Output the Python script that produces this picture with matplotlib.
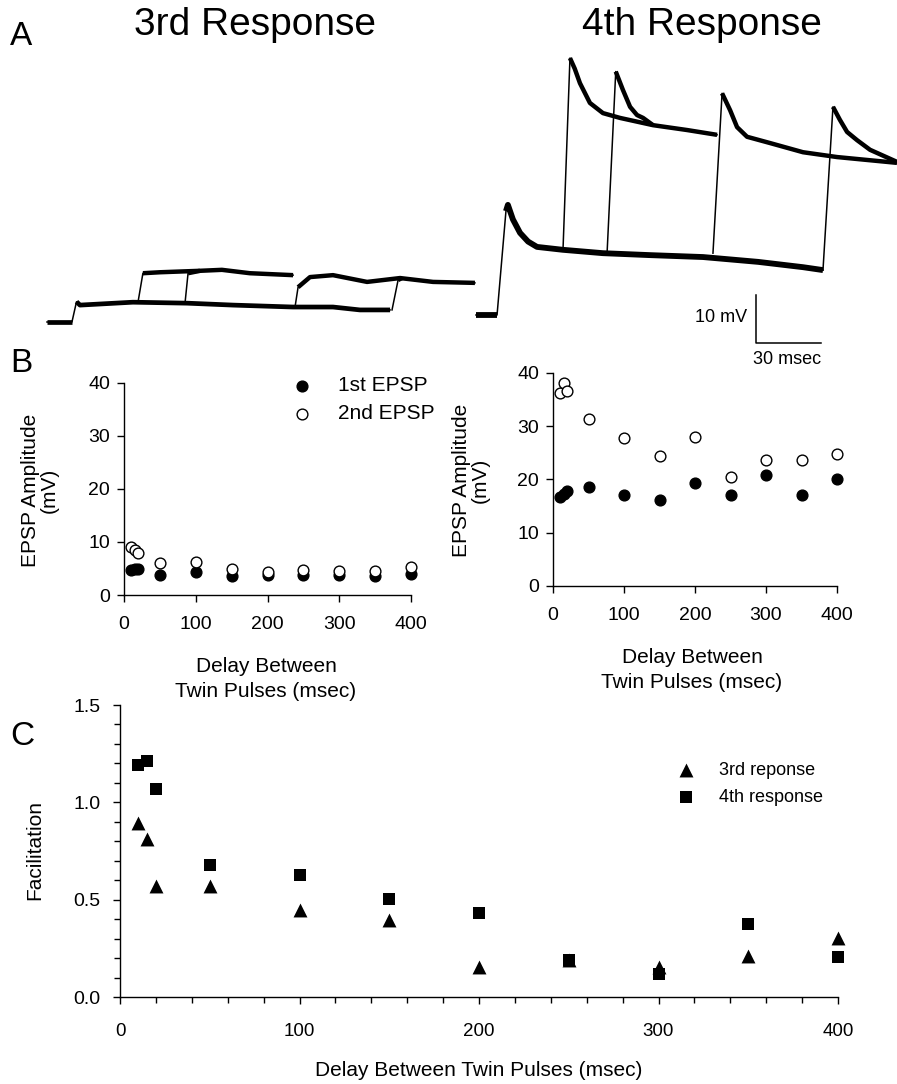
import matplotlib
matplotlib.use('Agg')
import matplotlib.pyplot as plt

plt.rcParams['font.family'] = ['Liberation Sans', 'DejaVu Sans']

# ---------------- Panel A traces (time in ms, voltage in mV above baseline) ----
# 3rd response
r3_base_t = [0, 11.5, 13.6, 15.2, 39.6, 64.5, 85.7, 113.4, 131.8, 144.2, 158.1]
r3_base_v = [0, 0, 4.2, 3.5, 4.1, 3.9, 3.5, 3.1, 3.1, 2.5, 2.5]
r3_s1_t = [41.9, 44.2, 52.1, 70.5, 80.6, 93.5, 113.4]
r3_s1_v = [4.0, 10.1, 10.3, 10.6, 10.8, 10.1, 9.7]
r3_s2_t = [63.6, 65.0, 70.5]
r3_s2_v = [3.9, 10.1, 10.6]
r3_s3_t = [114.3, 115.7, 121.2, 131.8, 147.5, 162.7, 177.9, 197.2]
r3_s3_v = [3.1, 7.2, 9.3, 9.7, 8.3, 9.1, 8.3, 8.1]
r3_s4_t = [159.0, 161.8, 163.6]
r3_s4_v = [2.5, 8.7, 9.1]

# 4th response
r4_base_t = [0, 9.7, 13.8, 14.7, 17.0, 20.3, 24.0, 28.1, 40.0, 58.5, 80.0, 104.6, 130.0, 150.7, 159.9]
r4_base_v = [0, 0, 21.5, 22.8, 19.8, 17.0, 15.2, 14.1, 13.5, 12.8, 12.4, 12.0, 11.0, 9.9, 9.3]
r4_s1_t = [40.1, 43.3, 45.5, 47.9, 52.5, 58.5, 66.4, 81.6, 97.2, 111.1]
r4_s1_v = [13.6, 53.2, 51.0, 48.0, 43.9, 41.8, 40.8, 39.3, 38.3, 37.3]
r4_s2_t = [60.4, 64.4, 67.7, 71.0, 74.2, 77.0, 81.6]
r4_s2_v = [12.8, 50.4, 46.6, 43.1, 41.4, 40.8, 39.3]
r4_s3_t = [109.2, 113.4, 117.1, 120.3, 124.9, 135.5, 150.7, 166.4, 194.0]
r4_s3_v = [12.8, 45.9, 42.4, 38.9, 36.9, 35.6, 33.7, 32.7, 31.5]
r4_s4_t = [159.9, 164.5, 167.7, 171.0, 175.6, 181.6, 194.0]
r4_s4_v = [9.3, 43.1, 40.4, 37.9, 36.2, 34.2, 31.7]

scale_mv = 10
scale_ms = 30

# ---------------- Panels B and C ----------------
delays = [10, 15, 20, 50, 100, 150, 200, 250, 300, 350, 400]
third_first = [4.8, 4.9, 5.0, 3.8, 4.3, 3.6, 3.7, 3.8, 3.7, 3.5, 3.9]
third_second = [9.1, 8.5, 7.9, 6.0, 6.3, 5.0, 4.3, 4.7, 4.5, 4.5, 5.2]
fourth_first = [16.8, 17.2, 17.9, 18.6, 17.0, 16.1, 19.3, 17.0, 20.8, 17.0, 20.1]
fourth_second = [36.2, 38.1, 36.7, 31.4, 27.7, 24.5, 28.0, 20.4, 23.7, 23.7, 24.7]
fac_third = [0.895, 0.81, 0.569, 0.569, 0.446, 0.398, 0.154, 0.19, 0.154, 0.209, 0.305]
fac_fourth = [1.19, 1.21, 1.066, 0.677, 0.626, 0.502, 0.434, 0.189, 0.12, 0.374, 0.206]

W, H = 897, 1084
fig = plt.figure(figsize=(W / 100, H / 100), dpi=100)


def rect(x0, y0, x1, y1):
    return [x0 / W, 1 - y1 / H, (x1 - x0) / W, (y1 - y0) / H]


PX_MS = 2.17
PX_MV = 4.83


def trace_axes(x0, x1, t0px, v0py, y0=40, y1=370):
    ax = fig.add_axes(rect(x0, y0, x1, y1))
    ax.set_xlim((x0 - t0px) / PX_MS, (x1 - t0px) / PX_MS)
    ax.set_ylim((v0py - y1) / PX_MV, (v0py - y0) / PX_MV)
    ax.axis('off')
    return ax


def draw_trace(ax, t, v, rise, lw=3.8):
    ax.plot(t, v, color='black', lw=1.1, clip_on=False, solid_joinstyle='round')
    if rise > 0:
        ax.plot(t[:rise + 1], v[:rise + 1], color='black', lw=lw, clip_on=False,
                solid_capstyle='butt')
    ax.plot(t[rise + 1:], v[rise + 1:], color='black', lw=lw, clip_on=False,
            solid_joinstyle='round', solid_capstyle='butt')


ax3 = trace_axes(40, 480, 47, 322)
draw_trace(ax3, r3_base_t, r3_base_v, 1, lw=3.4)
for t, v in [(r3_s1_t, r3_s1_v), (r3_s2_t, r3_s2_v), (r3_s3_t, r3_s3_v), (r3_s4_t, r3_s4_v)]:
    draw_trace(ax3, t, v, 0, lw=3.2)

ax4 = trace_axes(470, 897, 476, 315)
draw_trace(ax4, r4_base_t, r4_base_v, 1, lw=4.2)
for t, v in [(r4_s1_t, r4_s1_v), (r4_s2_t, r4_s2_v), (r4_s3_t, r4_s3_v), (r4_s4_t, r4_s4_v)]:
    draw_trace(ax4, t, v, 0, lw=3.2)

# scale bar
sb_t = (756 - 476) / PX_MS
sb_v = (315 - 343) / PX_MV
ax4.plot([sb_t, sb_t, sb_t + scale_ms], [sb_v + scale_mv, sb_v, sb_v],
         color='black', lw=1.1, clip_on=False)
fig.text(747 / W, 1 - 318 / H, f'{scale_mv} mV', ha='right', va='center', fontsize=13)
fig.text(753 / W, 1 - 359 / H, f'{scale_ms} msec', ha='left', va='center', fontsize=13)

fig.text(10 / W, 1 - 45 / H, 'A', fontsize=24, ha='left', va='baseline')
fig.text(255 / W, 1 - 35 / H, '3rd Response', fontsize=28, ha='center', va='baseline')
fig.text(702 / W, 1 - 35 / H, '4th Response', fontsize=28, ha='center', va='baseline')
fig.text(10 / W, 1 - 372 / H, 'B', fontsize=24, ha='left', va='baseline')
fig.text(10 / W, 1 - 745 / H, 'C', fontsize=24, ha='left', va='baseline')


def style(ax, fs, xpad, ypad, ticklen):
    for s in ('top', 'right'):
        ax.spines[s].set_visible(False)
    for s in ('left', 'bottom'):
        ax.spines[s].set_linewidth(1.0)
    ax.tick_params(direction='out', length=ticklen, width=1.0, labelsize=fs)
    ax.tick_params(axis='x', pad=xpad)
    ax.tick_params(axis='y', pad=ypad)


# Panel B left
axl = fig.add_axes(rect(124, 383, 411, 595))
axl.scatter(delays, third_first, s=60, c='black', edgecolors='black', zorder=3,
            clip_on=False, label='1st EPSP')
axl.scatter(delays, third_second, s=60, facecolors='white', edgecolors='black',
            linewidths=1.0, zorder=4, clip_on=False, label='2nd EPSP')
axl.set_xlim(0, 400)
axl.set_ylim(0, 40)
axl.set_xticks([0, 100, 200, 300, 400])
axl.set_yticks([0, 10, 20, 30, 40])
style(axl, 14, 10, 5, 5)
axl.legend(loc='upper left', bbox_to_anchor=(292 / W, 1 - 376 / H),
           bbox_transform=fig.transFigure, frameon=False, fontsize=15,
           handlelength=1.0, handletextpad=1.2, labelspacing=0.45,
           borderpad=0, borderaxespad=0, scatterpoints=1)
fig.text(40 / W, 1 - 490 / H, 'EPSP Amplitude\n(mV)', rotation=90, ha='center',
         va='center', fontsize=15, multialignment='center', linespacing=1.0)
fig.text(266 / W, 1 - 679 / H, 'Delay Between\nTwin Pulses (msec)', ha='center',
         va='center', fontsize=15, multialignment='center', linespacing=1.35)

# Panel B right
axr = fig.add_axes(rect(553, 373, 837, 586))
axr.scatter(delays, fourth_first, s=60, c='black', edgecolors='black', zorder=3,
            clip_on=False)
axr.scatter(delays, fourth_second, s=60, facecolors='white', edgecolors='black',
            linewidths=1.0, zorder=4, clip_on=False)
axr.set_xlim(0, 400)
axr.set_ylim(0, 40)
axr.set_xticks([0, 100, 200, 300, 400])
axr.set_yticks([0, 10, 20, 30, 40])
style(axr, 14, 10, 5, 5)
fig.text(471 / W, 1 - 480 / H, 'EPSP Amplitude\n(mV)', rotation=90, ha='center',
         va='center', fontsize=15, multialignment='center', linespacing=1.0)
fig.text(692 / W, 1 - 670 / H, 'Delay Between\nTwin Pulses (msec)', ha='center',
         va='center', fontsize=15, multialignment='center', linespacing=1.35)

# Panel C
axc = fig.add_axes(rect(120, 705, 838, 997))
axc.scatter(delays, fac_third, s=100, marker='^', c='black', zorder=3, clip_on=False,
            label='3rd reponse', linewidths=0)
axc.scatter(delays, fac_fourth, s=80, marker='s', c='black', zorder=3, clip_on=False,
            label='4th response', linewidths=0)
axc.set_xlim(0, 400)
axc.set_ylim(0, 1.5)
axc.set_xticks([0, 100, 200, 300, 400])
axc.set_xticks(range(0, 401, 20), minor=True)
axc.set_yticks([0.0, 0.5, 1.0, 1.5])
axc.set_yticks([i / 10 for i in range(16)], minor=True)
axc.set_yticklabels(['0.0', '0.5', '1.0', '1.5'])
style(axc, 14, 14, 9, 5)
axc.tick_params(axis='x', labelsize=13.5)
axc.tick_params(which='minor', direction='out', length=4, width=1.0)
axc.legend(loc='upper left', bbox_to_anchor=(677 / W, 1 - 762 / H),
           bbox_transform=fig.transFigure, frameon=False, fontsize=13,
           handlelength=1.0, handletextpad=1.3, labelspacing=0.55,
           borderpad=0, borderaxespad=0, scatterpoints=1)
axc.set_ylabel('Facilitation', fontsize=15)
axc.yaxis.set_label_coords(44 / W, 1 - 850 / H, transform=fig.transFigure)
fig.text(479 / W, 1 - 1070 / H, 'Delay Between Twin Pulses (msec)', ha='center',
         va='center', fontsize=15)

fig.savefig('out.png', dpi=100)
